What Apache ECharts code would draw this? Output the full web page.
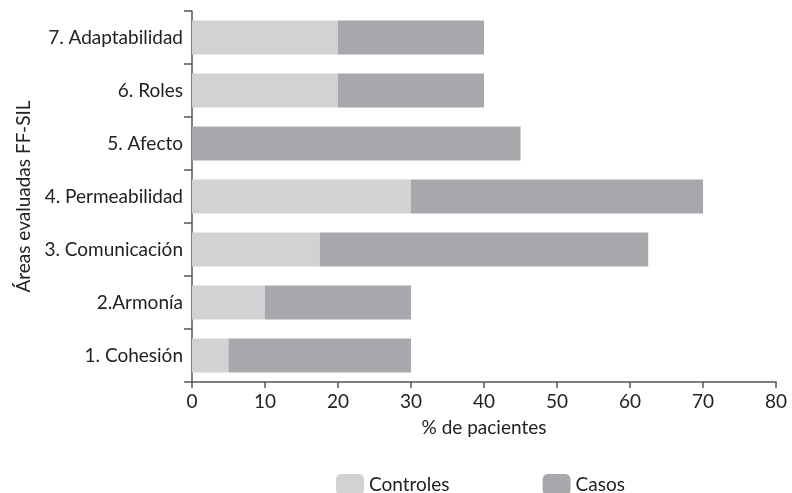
<!DOCTYPE html>
<html><head><meta charset="utf-8">
<script src="https://cdn.jsdelivr.net/npm/echarts@6/dist/echarts.min.js"></script>
<style>html,body{margin:0;padding:0;background:#fff}#c{width:792px;height:493px}</style>
</head><body><div id="c"></div>
<script>
const categories = ['1. Cohesión','2.Armonía','3. Comunicación','4. Permeabilidad','5. Afecto','6. Roles','7. Adaptabilidad'];
const controles = [5, 10, 17.5, 30, 0, 20, 20];
const casos = [25, 20, 45, 40, 45, 20, 20];
const xTicks = [0,10,20,30,40,50,60,70,80];

const chart = echarts.init(document.getElementById('c'));
const font = 'Lato, "Open Sans", sans-serif';
const axisCol = '#555';
chart.setOption({
  animation: false,
  textStyle: {fontFamily: font},
  grid: {left: 192, right: 16, top: 11, bottom: 111, containLabel: false},
  legend: {
    bottom: -7, left: 331, itemWidth: 28, itemHeight: 21, itemGap: 93,
    textStyle: {fontSize: 19, color: '#222', fontFamily: font},
    data: ['Controles','Casos']
  },
  xAxis: {
    type: 'value', min: 0, max: 80, interval: 10,
    name: '% de pacientes', nameLocation: 'middle', nameGap: 36,
    nameTextStyle: {fontSize: 19, color: '#222', fontFamily: font},
    axisLine: {show: true, lineStyle: {color: axisCol, width: 1.5}},
    axisTick: {show: true, length: 6, lineStyle: {color: axisCol, width: 1.5}},
    axisLabel: {fontSize: 19, color: '#222', margin: 10, fontFamily: font,
      formatter: v => xTicks.includes(v) ? String(v) : ''},
    splitLine: {show: false}
  },
  yAxis: {
    type: 'category', data: categories,
    name: 'Áreas evaluadas FF-SIL', nameLocation: 'middle', nameGap: 155,
    nameTextStyle: {fontSize: 19, color: '#222', fontFamily: font},
    axisLine: {show: true, lineStyle: {color: axisCol, width: 1.5}},
    axisTick: {show: true, length: 8, lineStyle: {color: axisCol, width: 1.5}},
    axisLabel: {fontSize: 19, color: '#222', margin: 9, fontFamily: font}
  },
  series: [
    {name: 'Controles', type: 'bar', stack: 't', data: controles, barCategoryGap: '36%',
     itemStyle: {color: '#d1d2d4'}},
    {name: 'Casos', type: 'bar', stack: 't', data: casos, barCategoryGap: '36%',
     itemStyle: {color: '#a7a8ab'}}
  ]
});
</script></body></html>
